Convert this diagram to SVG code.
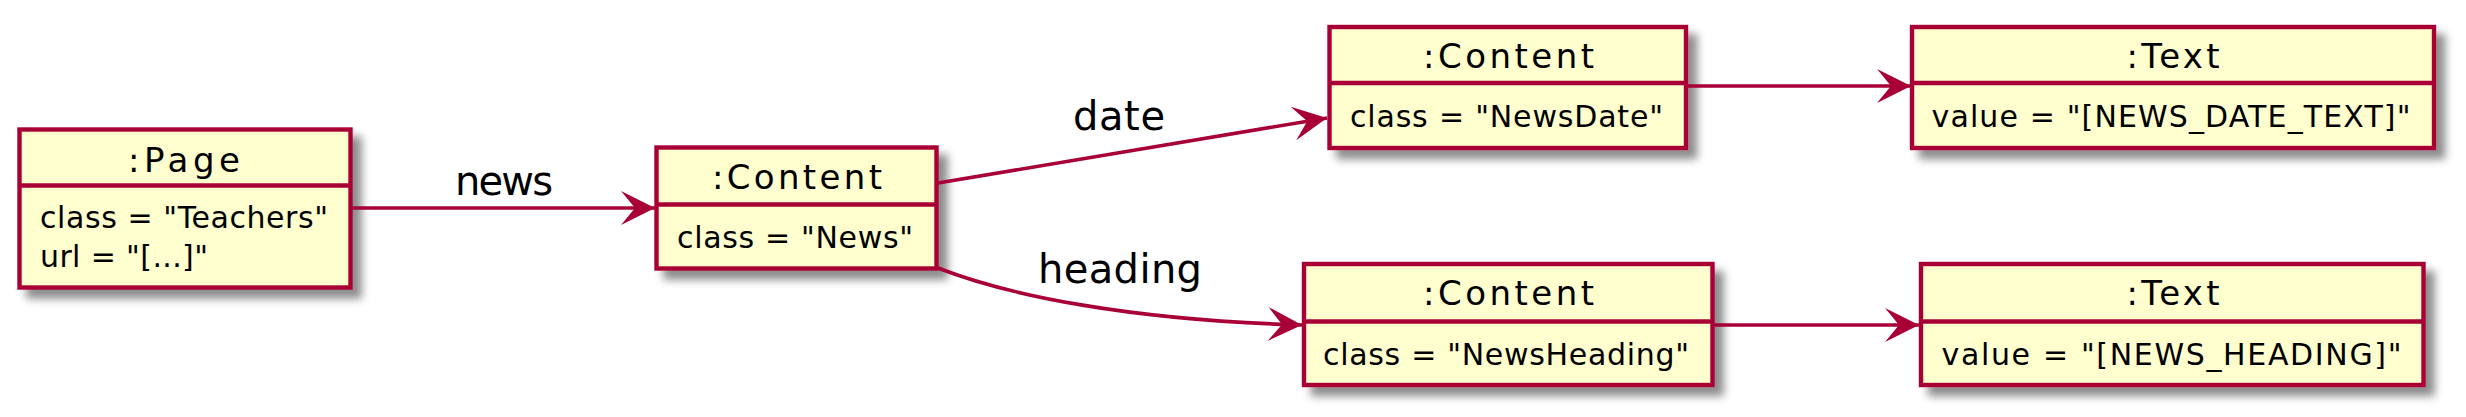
<svg xmlns="http://www.w3.org/2000/svg" width="2466" height="417" viewBox="0 0 2466 417">
<style>
.box{fill:#FEFECE;stroke:#A80036;stroke-width:4.4;filter:url(#sh)}
.div{stroke:#A80036;stroke-width:4.4}
.title{font-family:"DejaVu Sans",sans-serif;font-size:34px;fill:#000;text-anchor:middle}
.attr{font-family:"DejaVu Sans",sans-serif;font-size:30px;fill:#000}
.mid{text-anchor:middle}
.lbl{font-family:"DejaVu Sans",sans-serif;font-size:40px;fill:#000;text-anchor:middle}
.edge{fill:none;stroke:#A80036;stroke-width:3.6;marker-end:url(#ah)}
</style>
<defs>
<filter id="sh" x="-10%" y="-20%" width="130%" height="150%">
<feGaussianBlur in="SourceAlpha" stdDeviation="4.5" result="b"/>
<feColorMatrix in="b" type="matrix" values="0 0 0 0 0  0 0 0 0 0  0 0 0 0 0  0 0 0 0.45 0" result="c"/>
<feOffset in="c" dx="9" dy="9" result="o"/>
<feMerge><feMergeNode in="o"/><feMergeNode in="SourceGraphic"/></feMerge>
</filter>
<marker id="ah" markerUnits="userSpaceOnUse" viewBox="-36 -19 38 38" refX="0" refY="0" markerWidth="38" markerHeight="38" orient="auto">
<path d="M0,0 L-34,-17 L-20,0 L-34,17 Z" fill="#A80036"/>
</marker>
</defs>

<g id="page">
<rect class="box" x="19.5" y="129.5" width="331" height="158"/>
<line class="div" x1="19.5" y1="185.5" x2="350.5" y2="185.5"/>
<text class="title" x="184" y="172" textLength="112" lengthAdjust="spacing">:Page</text>
<text class="attr" x="40" y="228" textLength="288" lengthAdjust="spacing">class = "Teachers"</text>
<text class="attr" x="40" y="267" textLength="168" lengthAdjust="spacing">url = "[...]"</text>
</g>

<g id="news">
<rect class="box" x="656.5" y="147.5" width="280" height="121"/>
<line class="div" x1="656.5" y1="204.5" x2="936.5" y2="204.5"/>
<text class="title" x="797" y="189" textLength="170" lengthAdjust="spacing">:Content</text>
<text class="attr mid" x="795" y="248" textLength="236" lengthAdjust="spacing">class = "News"</text>
</g>

<g id="newsdate">
<rect class="box" x="1329.5" y="27" width="356.5" height="121"/>
<line class="div" x1="1329.5" y1="83" x2="1686" y2="83"/>
<text class="title" x="1508.5" y="68" textLength="171" lengthAdjust="spacing">:Content</text>
<text class="attr mid" x="1506.5" y="127" textLength="313" lengthAdjust="spacing">class = "NewsDate"</text>
</g>

<g id="text1">
<rect class="box" x="1912" y="27" width="522" height="121"/>
<line class="div" x1="1912" y1="83" x2="2434" y2="83"/>
<text class="title" x="2173" y="68" textLength="93" lengthAdjust="spacing">:Text</text>
<text class="attr mid" x="2171" y="127" textLength="479" lengthAdjust="spacing">value = "[NEWS_DATE_TEXT]"</text>
</g>

<g id="newsheading">
<rect class="box" x="1304" y="264" width="408.5" height="121"/>
<line class="div" x1="1304" y1="321.5" x2="1712.5" y2="321.5"/>
<text class="title" x="1508.5" y="305" textLength="171" lengthAdjust="spacing">:Content</text>
<text class="attr mid" x="1506" y="365" textLength="366" lengthAdjust="spacing">class = "NewsHeading"</text>
</g>

<g id="text2">
<rect class="box" x="1921" y="264" width="502.5" height="121"/>
<line class="div" x1="1921" y1="321.5" x2="2423.5" y2="321.5"/>
<text class="title" x="2173" y="305" textLength="93" lengthAdjust="spacing">:Text</text>
<text class="attr mid" x="2171.5" y="365" textLength="460" lengthAdjust="spacing">value = "[NEWS_HEADING]"</text>
</g>

<g id="connectors">
<path class="edge" d="M352,208 L655,208"/>
<path class="edge" d="M938,183 L1327,118"/>
<path class="edge" d="M1688,86 L1911,86"/>
<path class="edge" d="M938,268 C1010,296 1130,320 1302,325"/>
<path class="edge" d="M1714,325 L1919,325"/>
<text class="lbl" x="504" y="195" textLength="98" lengthAdjust="spacing">news</text>
<text class="lbl" x="1119" y="130" textLength="92" lengthAdjust="spacing">date</text>
<text class="lbl" x="1120" y="283" textLength="164" lengthAdjust="spacing">heading</text>
</g>
</svg>
